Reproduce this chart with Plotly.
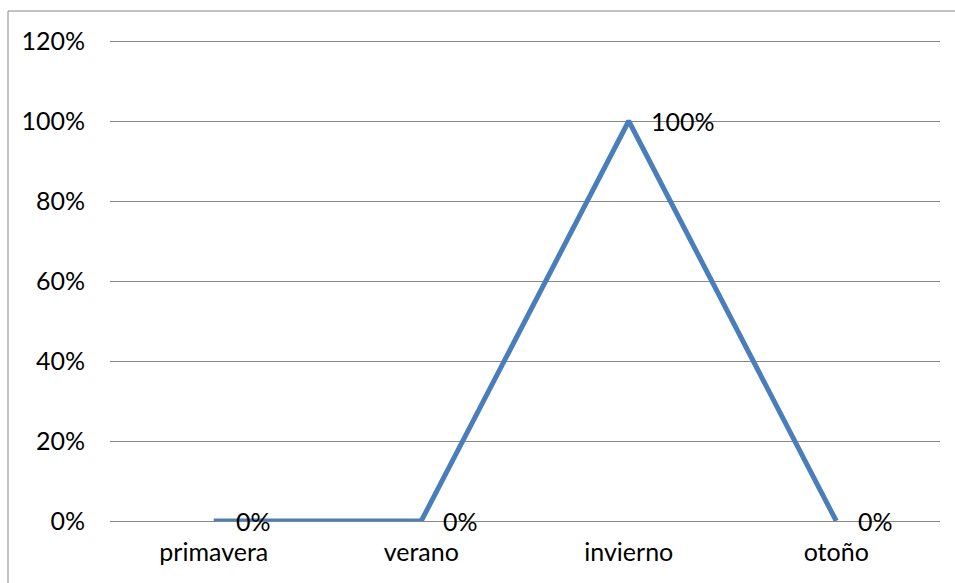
import plotly.graph_objects as go

# Season shares
seasons = ["primavera", "verano", "invierno", "otoño"]
shares = [0.0, 0.0, 1.0, 0.0]
y_ticks = [0.0, 0.2, 0.4, 0.6, 0.8, 1.0, 1.2]

W, H = 955, 583
Y_TOP = 1.21  # a little headroom so the top gridline is drawn
ML, MR, MB = 110, 15, 62
PX_PER_UNIT = 400  # 100% spans 400 px
plot_h = round(Y_TOP * PX_PER_UNIT)
MT = H - MB - plot_h
plot_w = W - ML - MR

FONT = "Lato"
GRID = "#878787"

fig = go.Figure()
fig.add_trace(go.Scatter(
    x=seasons, y=shares, mode="lines",
    line=dict(color="#4A7EBB", width=5),
    hoverinfo="skip", showlegend=False,
))

# value labels to the right of each point
for s, v in zip(seasons, shares):
    fig.add_annotation(
        x=s, y=v, xref="x", yref="y",
        text=f"{v:.0%}", showarrow=False,
        xanchor="left", yanchor="middle", xshift=20, yshift=0,
        font=dict(family=FONT, size=25, color="black"),
    )

# outer chart border
fig.add_shape(
    type="rect", xref="paper", yref="paper",
    x0=(8 - ML) / plot_w, x1=(W + 10 - ML) / plot_w,
    y0=-(H + 10 - (MT + plot_h)) / plot_h, y1=(MT + plot_h - 11) / plot_h,
    line=dict(color=GRID, width=1), fillcolor="rgba(0,0,0,0)", layer="below",
)

fig.update_layout(
    width=W, height=H,
    margin=dict(l=ML, r=MR, t=MT, b=MB),
    paper_bgcolor="white", plot_bgcolor="white",
    font=dict(family=FONT, size=25, color="black"),
    xaxis=dict(
        type="category", range=[-0.5, 3.5],
        showgrid=False, zeroline=False, showline=False,
        ticks="", ticklabelstandoff=14,
        tickfont=dict(family=FONT, size=25, color="black"),
    ),
    yaxis=dict(
        range=[0, Y_TOP], tickvals=y_ticks, tickformat=".0%",
        showgrid=True, gridcolor=GRID, gridwidth=1.3,
        zeroline=True, zerolinecolor=GRID, zerolinewidth=1.3,
        showline=False, ticks="", ticklabelstandoff=24,
        tickfont=dict(family=FONT, size=25, color="black"),
    ),
)

fig.write_html("out.html")
